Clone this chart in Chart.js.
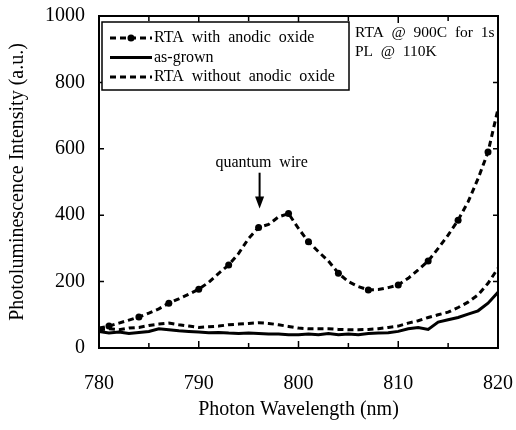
<!DOCTYPE html>
<html lang="en">
<head>
<meta charset="UTF-8">
<title>Photoluminescence spectra</title>
<script src="https://cdn.jsdelivr.net/npm/chart.js"></script>
<style>
  html, body { margin: 0; padding: 0; background: #fff; }
  #wrap { width: 516px; height: 430px; }
</style>
</head>
<body>
<div id="wrap"><canvas id="plChart" width="516" height="430"></canvas></div>
<script>
// wavelength grid (nm)
const wavelengths = [780, 781, 782, 783, 784, 785, 786, 787, 788, 789, 790, 791, 792, 793, 794, 795, 796, 797, 798, 799,
                     800, 801, 802, 803, 804, 805, 806, 807, 808, 809, 810, 811, 812, 813, 814, 815, 816, 817, 818, 819, 820];

// PL intensity (a.u.)
const rtaWithOxide = [60, 66, 75, 84, 93, 105, 118, 135, 148, 162, 177, 198, 225, 250, 285, 330, 363, 372, 395, 405,
                      360, 320, 290, 262, 225, 200, 185, 175, 176, 182, 190, 210, 235, 262, 300, 340, 385, 440, 510, 590, 720];
const asGrown = [50, 45, 48, 44, 47, 50, 58, 55, 52, 50, 48, 46, 47, 45, 44, 45, 44, 42, 42, 40,
                 40, 42, 40, 44, 40, 42, 40, 44, 45, 46, 50, 58, 62, 56, 78, 85, 92, 102, 112, 135, 168];
const rtaWithoutOxide = [55, 58, 55, 60, 62, 68, 72, 75, 70, 66, 62, 64, 66, 70, 72, 74, 76, 74, 70, 65,
                         60, 58, 58, 58, 56, 55, 55, 56, 58, 62, 66, 75, 82, 92, 100, 108, 122, 138, 160, 195, 240];

// wavelengths where the filled dots of the first curve sit
const markerWavelengths = [781, 784, 787, 790, 793, 796, 799, 801, 804, 807, 810, 813, 816, 819];

const seriesLabels = ['RTA  with  anodic  oxide', 'as-grown', 'RTA  without  anodic  oxide'];
const xTicks = [780, 790, 800, 810, 820];
const yTicks = [0, 200, 400, 600, 800, 1000];
const noteLines = ['RTA  @  900C  for  1s', 'PL  @  110K'];
const arrowLabel = 'quantum  wire';

const serif = '"Liberation Serif", "DejaVu Serif", serif';

function toPoints(ys) {
    return wavelengths.map((x, i) => ({ x: x, y: ys[i] }));
}

// inward ticks, frame, legend box and the annotations
const decorations = {
    id: 'decorations',
    afterDatasetsDraw(chart) {
        const ctx = chart.ctx;
        const a = chart.chartArea;
        const xs = chart.scales.x, ys = chart.scales.y;
        ctx.save();
        ctx.strokeStyle = '#000';
        ctx.lineWidth = 1.5;

        // x ticks, majors every 10 and minors at 5
        for (let v = xTicks[0]; v <= xTicks[xTicks.length - 1]; v += 5) {
            const px = xs.getPixelForValue(v);
            const len = (v % 10 === 0) ? 7 : 5;
            ctx.beginPath();
            ctx.moveTo(px, a.bottom); ctx.lineTo(px, a.bottom - len);
            ctx.moveTo(px, a.top); ctx.lineTo(px, a.top + len);
            ctx.stroke();
        }
        yTicks.forEach(v => {
            const py = ys.getPixelForValue(v);
            ctx.beginPath();
            ctx.moveTo(a.left, py); ctx.lineTo(a.left + 5, py);
            ctx.moveTo(a.right, py); ctx.lineTo(a.right - 5, py);
            ctx.stroke();
        });

        // frame
        ctx.lineWidth = 2;
        ctx.strokeRect(a.left, a.top, a.right - a.left, a.bottom - a.top);

        // legend box
        const bx = a.left + 3, by = a.top + 6, bw = 247, bh = 68;
        ctx.fillStyle = '#fff';
        ctx.fillRect(bx, by, bw, bh);
        ctx.lineWidth = 1.5;
        ctx.strokeRect(bx, by, bw, bh);
        ctx.font = '16px ' + serif;
        ctx.textBaseline = 'middle';
        ctx.textAlign = 'left';
        chart.data.datasets.forEach((ds, i) => {
            const ry = by + 16 + i * 19.5;
            const x0 = bx + 8, x1 = bx + 50;
            ctx.beginPath();
            ctx.setLineDash(ds.borderDash || []);
            ctx.lineWidth = ds.borderWidth;
            ctx.strokeStyle = '#000';
            ctx.moveTo(x0, ry); ctx.lineTo(x1, ry);
            ctx.stroke();
            ctx.setLineDash([]);
            if (ds.legendDot) {
                ctx.beginPath();
                ctx.arc((x0 + x1) / 2, ry, 3.5, 0, Math.PI * 2);
                ctx.fillStyle = '#000';
                ctx.fill();
            }
            ctx.fillStyle = '#000';
            ctx.fillText(ds.label, x1 + 2, ry);
        });

        // condition note at top right
        ctx.font = '15.5px ' + serif;
        noteLines.forEach((t, i) => ctx.fillText(t, a.right - 143, a.top + 17 + i * 19));

        // quantum wire arrow
        const axp = xs.getPixelForValue(796.1);
        const yTop = ys.getPixelForValue(528), yTip = ys.getPixelForValue(420);
        ctx.lineWidth = 2;
        ctx.beginPath();
        ctx.moveTo(axp, yTop); ctx.lineTo(axp, yTip - 8);
        ctx.stroke();
        ctx.beginPath();
        ctx.moveTo(axp - 4.5, yTip - 12); ctx.lineTo(axp + 4.5, yTip - 12); ctx.lineTo(axp, yTip);
        ctx.closePath();
        ctx.fill();
        ctx.textAlign = 'center';
        ctx.font = '16px ' + serif;
        ctx.fillText(arrowLabel, xs.getPixelForValue(796.3), ys.getPixelForValue(558));
        ctx.restore();
    }
};

const ctx = document.getElementById('plChart').getContext('2d');
new Chart(ctx, {
    type: 'line',
    data: {
        datasets: [
            {
                label: seriesLabels[0],
                data: toPoints(rtaWithOxide),
                borderColor: '#000',
                backgroundColor: '#000',
                borderWidth: 3,
                borderDash: [6, 4],
                legendDot: true,
                pointRadius: c => markerWavelengths.includes(c.raw && c.raw.x) ? 3.5 : 0,
                pointBorderWidth: 0
            },
            {
                label: seriesLabels[1],
                data: toPoints(asGrown),
                borderColor: '#000',
                borderWidth: 3,
                pointRadius: 0
            },
            {
                label: seriesLabels[2],
                data: toPoints(rtaWithoutOxide),
                borderColor: '#000',
                borderWidth: 3,
                borderDash: [6, 4],
                pointRadius: 0
            }
        ]
    },
    options: {
        responsive: false,
        animation: false,
        layout: { padding: { top: 16, right: 18, left: 0, bottom: 0 } },
        plugins: {
            legend: { display: false },
            tooltip: { enabled: false }
        },
        scales: {
            x: {
                type: 'linear',
                min: 780,
                max: 820,
                afterFit: s => { s.height = 82; s.paddingLeft = 0; s.paddingRight = 0; },
                afterBuildTicks: s => { s.ticks = xTicks.map(v => ({ value: v })); },
                grid: { display: false, drawTicks: false },
                border: { display: false },
                ticks: { color: '#000', padding: 24, maxRotation: 0, font: { family: serif, size: 20 },
                         callback: v => String(v) },
                title: {
                    display: true,
                    text: 'Photon Wavelength (nm)',
                    color: '#000',
                    font: { family: serif, size: 20 },
                    padding: { top: 0, bottom: 8 }
                }
            },
            y: {
                min: 0,
                max: 1000,
                afterFit: s => { s.width = 99; s.paddingTop = 0; s.paddingBottom = 0; },
                afterBuildTicks: s => { s.ticks = yTicks.map(v => ({ value: v })); },
                grid: { display: false, drawTicks: false },
                border: { display: false },
                ticks: { color: '#000', padding: 14, font: { family: serif, size: 20 },
                         callback: v => String(v) },
                title: {
                    display: true,
                    text: 'Photoluminescence Intensity (a.u.)',
                    color: '#000',
                    font: { family: serif, size: 20 },
                    padding: { top: 6, bottom: 0 }
                }
            }
        }
    },
    plugins: [decorations]
});
</script>
</body>
</html>
